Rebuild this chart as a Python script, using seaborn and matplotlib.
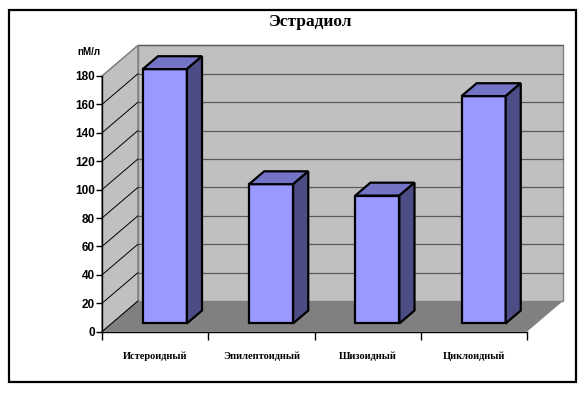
import numpy as np
import pandas as pd
import matplotlib
matplotlib.use("Agg")
import matplotlib.pyplot as plt
import seaborn as sns
from matplotlib.patches import Polygon, Rectangle
from matplotlib.transforms import IdentityTransform, ScaledTranslation

# ---- data ----
categories = ["Истероидный", "Эпилептоидный", "Шизоидный", "Циклоидный"]
values = [179, 98, 90, 160]
y_ticks = [0, 20, 40, 60, 80, 100, 120, 140, 160, 180]
title = "Эстрадиол"
unit_label = "nM/л"

# ---- style ----
FRONT = "#9999FF"
TOP = "#7474C6"
SIDE = "#4D4D85"
WALL = "#C0C0C0"
FLOOR = "#808080"
GRID = "#5A5A5A"

W, H, DPI = 588, 393, 100
sns.set_theme(style="white")
plt.rcParams["font.family"] = ["Liberation Serif", "DejaVu Serif"]
plt.rcParams["text.color"] = "black"
plt.rcParams["xtick.color"] = "black"
plt.rcParams["ytick.color"] = "black"
plt.rcParams["xtick.labelcolor"] = "black"
plt.rcParams["ytick.labelcolor"] = "black"

fig = plt.figure(figsize=(W / DPI, H / DPI), dpi=DPI)
fig.patch.set_facecolor("white")

# front plane axes: x 102..527 px, y 0 -> 331.7 px, 180 -> 76 px
x0, x1 = 102, 527
y0, y180 = 331.7, 76.0
ax = fig.add_axes([x0 / W, (H - y0) / H, (x1 - x0) / W, (y0 - y180) / H])
ax.set_xlim(-0.5, len(categories) - 0.5)
ax.set_ylim(0, 180)
ax.patch.set_alpha(0)

# depth vector in display pixels (right, up)
DX, DY = 36.0, 30.7
F_FRONT, F_BACK = 0.27, 0.69


def pt(x, y, f):
    """data point at depth fraction f -> display coords"""
    px, py = ax.transData.transform((x, y))
    return (px + f * DX, py + f * DY)


def poly(points, fc, ec="none", lw=0.0, z=1):
    p = Polygon(points, closed=True, facecolor=fc, edgecolor=ec, linewidth=lw,
                transform=IdentityTransform(), zorder=z, clip_on=False,
                joinstyle="miter")
    ax.add_artist(p)
    return p


xa, xb = -0.5, len(categories) - 0.5
# left wall
poly([pt(xa, 0, 0), pt(xa, 180, 0), pt(xa, 180, 1), pt(xa, 0, 1)], WALL, "#808080", 1.0, z=0.5)
# back wall
poly([pt(xa, 0, 1), pt(xa, 180, 1), pt(xb, 180, 1), pt(xb, 0, 1)], WALL, "#808080", 1.0, z=0.5)
# floor
poly([pt(xa, 0, 0), pt(xa, 0, 1), pt(xb, 0, 1), pt(xb, 0, 0)], FLOOR, "none", 0, z=0.6)

# grid lines
for v in y_ticks[1:]:
    a, b = pt(xa, v, 1), pt(xb, v, 1)
    ax.add_artist(plt.Line2D([a[0], b[0]], [a[1], b[1]], color=GRID, lw=0.9,
                             transform=IdentityTransform(), zorder=0.7, clip_on=False))
for v in y_ticks:
    a, b = pt(xa, v, 0), pt(xa, v, 1)
    col = "#808080" if v == 180 else "black"
    ax.add_artist(plt.Line2D([a[0], b[0]], [a[1], b[1]], color=col, lw=0.7,
                             transform=IdentityTransform(), zorder=0.7, clip_on=False))

# bars (front faces) via seaborn
df = pd.DataFrame({"cat": categories, "val": values})
sns.barplot(data=df, x="cat", y="val", ax=ax, color=FRONT, saturation=1,
            width=0.415, edgecolor="black", linewidth=1.6, zorder=3)
ax.set_xlim(-0.5, len(categories) - 0.5)
ax.set_ylim(0, 180)

shift = ScaledTranslation(F_FRONT * DX / DPI, F_FRONT * DY / DPI, fig.dpi_scale_trans)
for p in ax.patches:
    if not isinstance(p, Rectangle) or p.get_height() <= 0:
        continue
    bx, bw, bh = p.get_x(), p.get_width(), p.get_height()
    p.set_transform(ax.transData + shift)
    p.set_clip_on(False)
    p.set_joinstyle("miter")
    # top face
    poly([pt(bx, bh, F_FRONT), pt(bx + bw, bh, F_FRONT), pt(bx + bw, bh, F_BACK), pt(bx, bh, F_BACK)],
         TOP, "black", 1.6, z=3)
    # side face
    poly([pt(bx + bw, 0, F_FRONT), pt(bx + bw, bh, F_FRONT), pt(bx + bw, bh, F_BACK), pt(bx + bw, 0, F_BACK)],
         SIDE, "black", 1.6, z=3)

# axes, ticks
for s in ["top", "right"]:
    ax.spines[s].set_visible(False)
for s in ["left", "bottom"]:
    ax.spines[s].set_color("black")
    ax.spines[s].set_linewidth(1.0)
    ax.spines[s].set_zorder(4)
ax.set_yticks(y_ticks)
ax.set_yticklabels([str(v) for v in y_ticks], fontsize=8.5, fontweight="bold",
                   family=["Liberation Sans Narrow", "Liberation Sans", "DejaVu Sans"])
ax.tick_params(axis="y", direction="out", length=4, width=1, color="black", pad=1, left=True)

ax.set_xticks(np.arange(-0.5, len(categories), 1.0))
ax.set_xticklabels([""] * (len(categories) + 1))
ax.tick_params(axis="x", which="major", direction="out", length=6, width=1, color="black", bottom=True)
ax.set_xticks(np.arange(len(categories)), minor=True)
ax.set_xticklabels(categories, minor=True, fontsize=7.5, fontweight="bold")
ax.tick_params(axis="x", which="minor", length=0, pad=14)
ax.set_xlabel("")
ax.set_ylabel("")

# unit label and title
fig.text(89 / W, 1 - 52 / H, unit_label, ha="center", va="center", fontsize=7,
         fontweight="bold", color="black",
         family=["Liberation Sans Narrow", "Liberation Sans", "DejaVu Sans"])
fig.text(310 / W, 1 - 22 / H, title, ha="center", va="center", fontsize=12.5,
         fontweight="bold", color="black")

# outer border
fig.add_artist(Rectangle((9 / W, 1 - 382 / H), (576 - 9) / W, (382 - 10) / H,
                         transform=fig.transFigure, fill=False, edgecolor="black",
                         linewidth=1.6))

fig.savefig("out.png", dpi=DPI)
